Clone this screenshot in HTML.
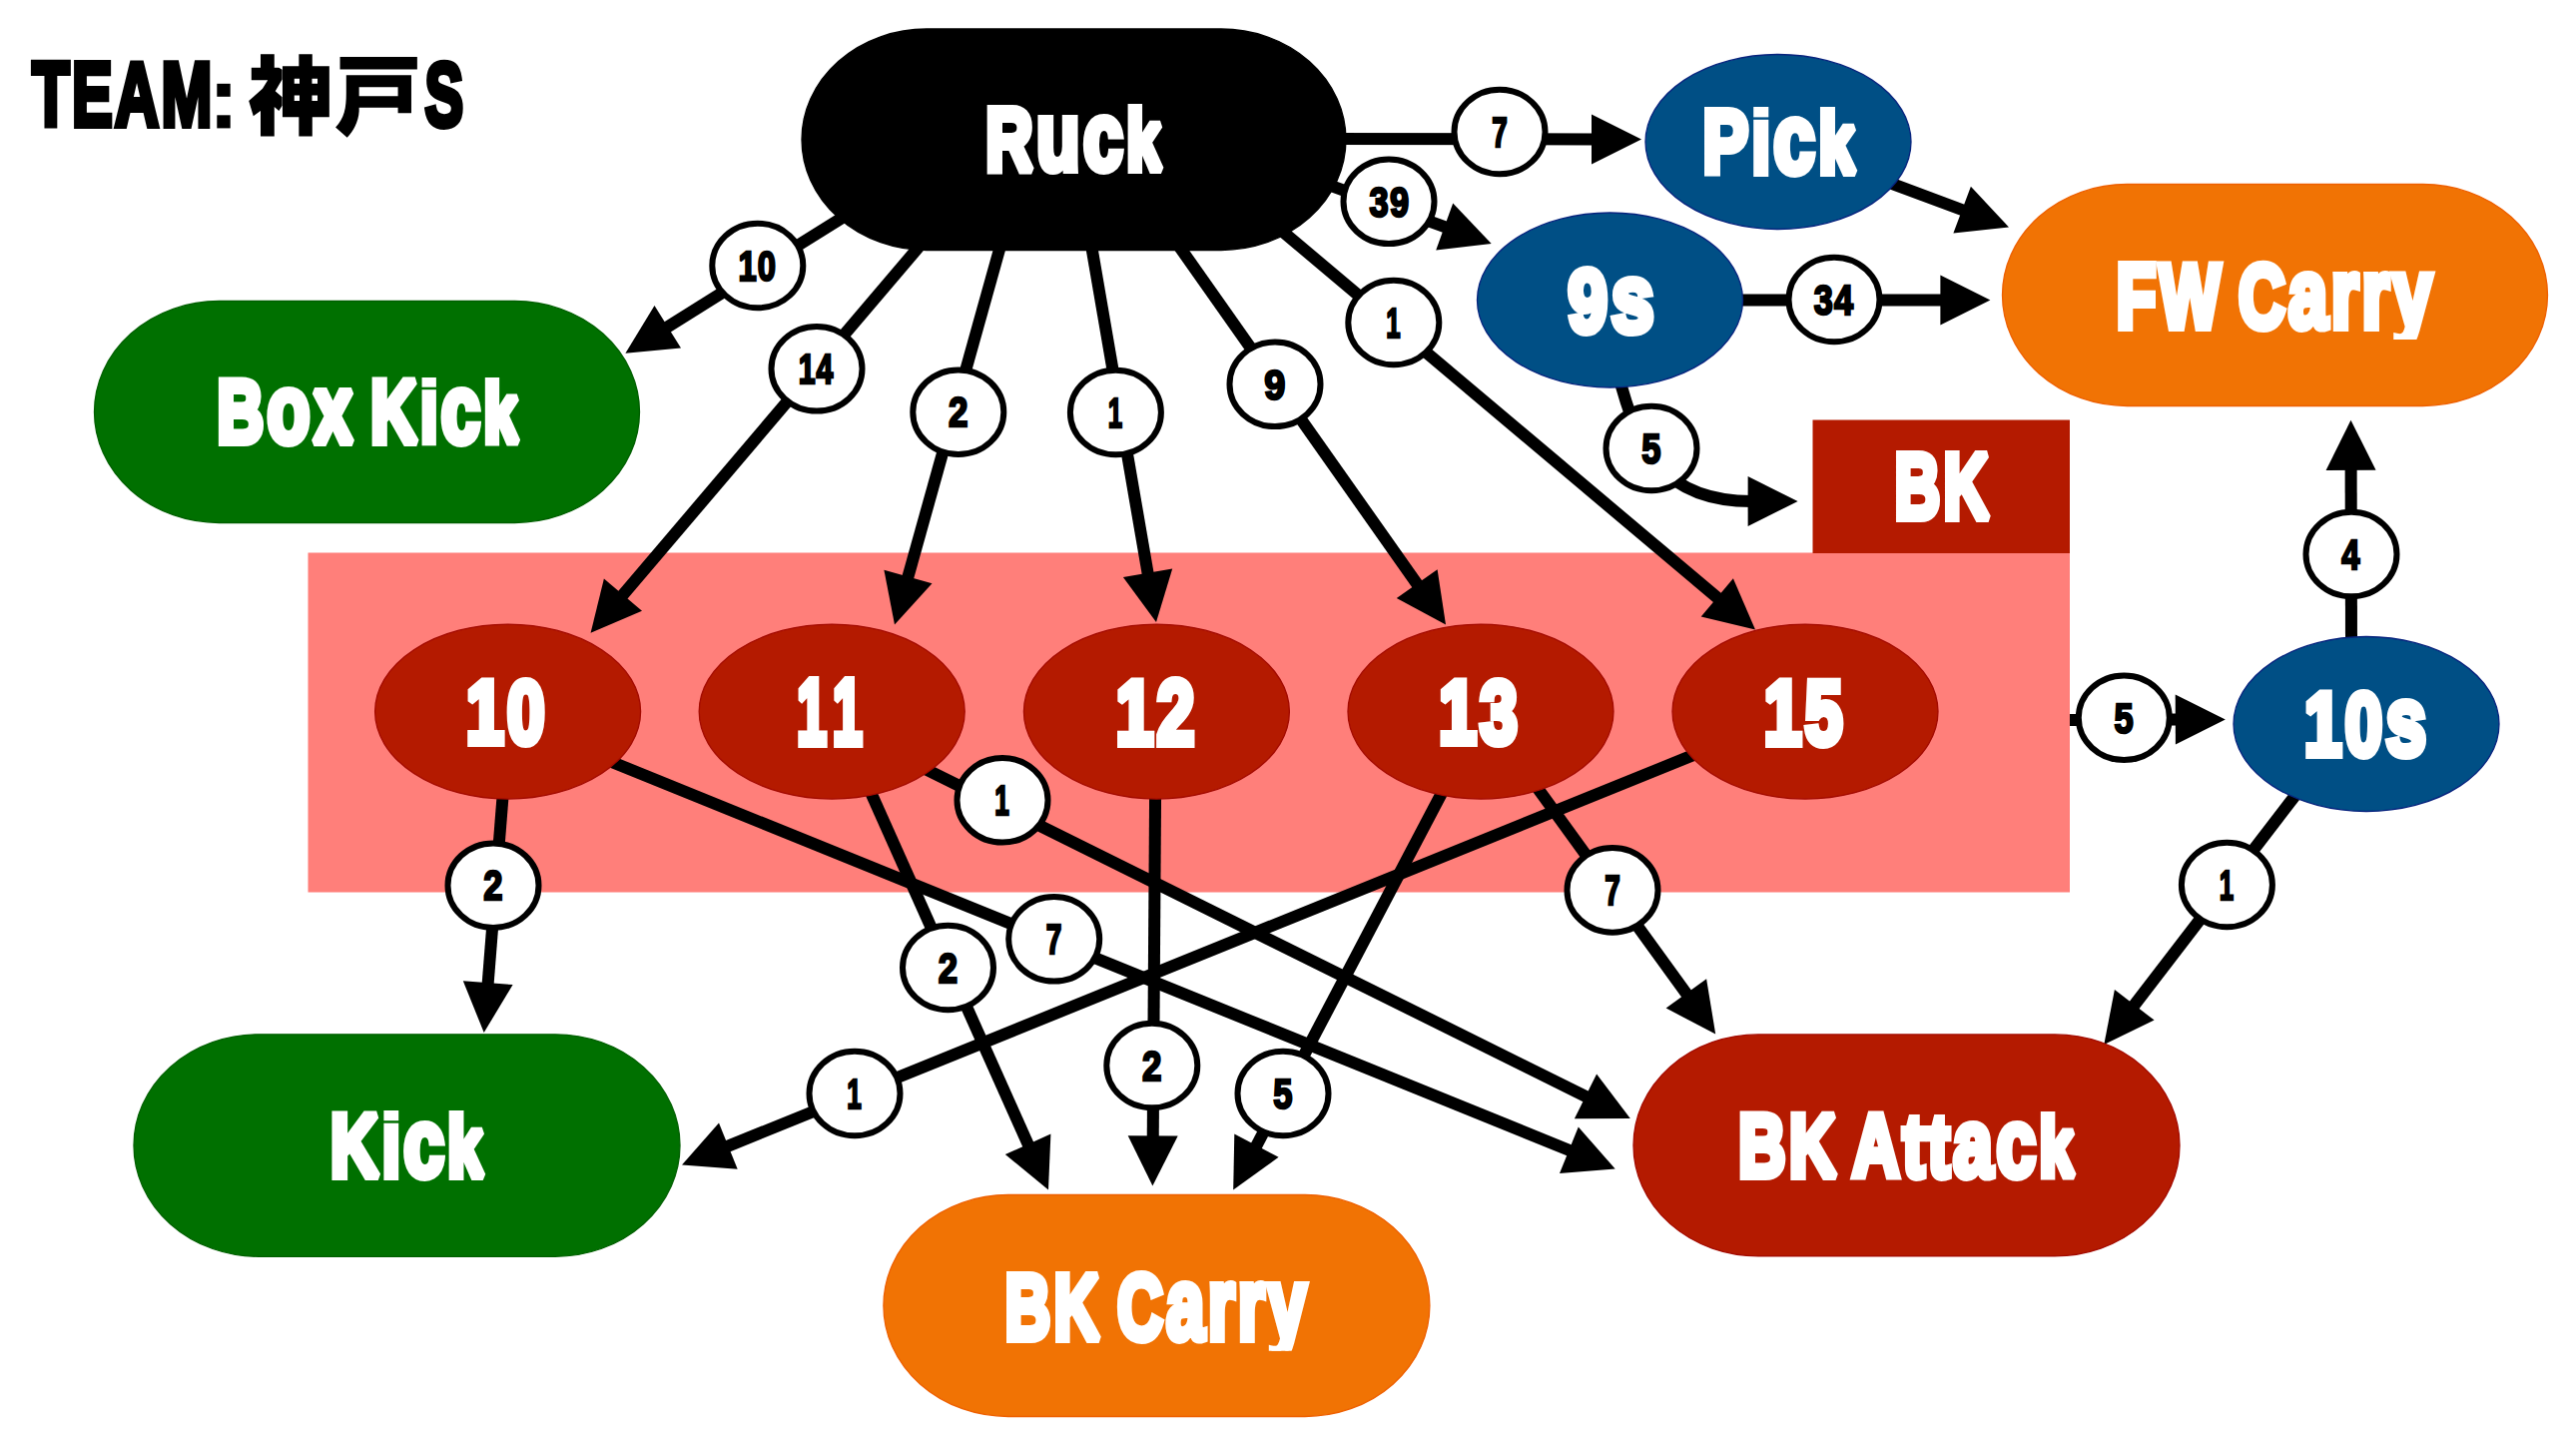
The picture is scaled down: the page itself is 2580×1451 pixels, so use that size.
<!DOCTYPE html>
<html><head><meta charset="utf-8"><style>
html,body{margin:0;padding:0;background:#fff;}
svg{display:block;}
</style></head><body>
<svg width="2580" height="1451" viewBox="0 0 2580 1451">
<defs><clipPath id="cBFWCarry21216"><rect x="2081.6" y="221.5" width="397.4000000000001" height="118.5"/></clipPath><clipPath id="cBBKCarry10078"><rect x="967.8" y="1232.2" width="384.20000000000005" height="120.59999999999991"/></clipPath></defs><rect x="0" y="0" width="2580" height="1451" fill="#fff"/><rect x="308.5" y="553.5" width="1764.5" height="340" fill="#FF7F7A"/><rect x="1815.5" y="420.5" width="257.5" height="133.5" fill="#B41A00"/><g stroke="#000" stroke-width="12" fill="none"><line x1="851.8" y1="212.8" x2="665.4" y2="329.3"/><line x1="922.2" y1="244.9" x2="621.4" y2="598.7"/><line x1="1002.8" y1="243.3" x2="908.4" y2="581.3"/><line x1="1092.6" y1="243.1" x2="1150.2" y2="577.6"/><line x1="1179.4" y1="244.5" x2="1421.5" y2="588.0"/><line x1="1279.9" y1="227.8" x2="1722.8" y2="600.9"/><line x1="1332.0" y1="139.0" x2="1598.0" y2="139.4"/><line x1="1328.5" y1="184.3" x2="1450.4" y2="228.4"/><line x1="1888.0" y1="181.4" x2="1968.9" y2="211.5"/><line x1="1732.0" y1="300.6" x2="1947.4" y2="300.6"/><line x1="2355.0" y1="648.0" x2="2354.6" y2="466.8"/><line x1="2073.0" y1="721.0" x2="2182.8" y2="720.6"/><line x1="2301.3" y1="793.3" x2="2135.3" y2="1009.5"/><line x1="503.9" y1="792.9" x2="488.4" y2="988.1"/><line x1="611.4" y1="762.5" x2="1575.1" y2="1153.2"/><line x1="870.9" y1="790.7" x2="1031.2" y2="1149.4"/><line x1="926.8" y1="770.1" x2="1591.6" y2="1099.6"/><line x1="1157.1" y1="792.0" x2="1154.7" y2="1141.4"/><line x1="1445.7" y1="790.9" x2="1256.6" y2="1150.7"/><line x1="1537.8" y1="786.2" x2="1691.2" y2="998.1"/><line x1="1699.0" y1="754.9" x2="725.6" y2="1149.1"/><path d="M1620,372 C1640,450 1665,502 1754.6,502.0" fill="none"/></g><g fill="#000"><polygon points="626.4,353.7 655.5,306.0 682.0,348.4"/><polygon points="591.6,633.7 604.9,579.4 643.0,611.8"/><polygon points="896.0,625.6 885.4,570.7 933.5,584.2"/><polygon points="1158.0,622.9 1124.9,577.9 1174.2,569.4"/><polygon points="1448.0,625.6 1398.8,599.1 1439.6,570.3"/><polygon points="1758.0,630.5 1703.7,617.4 1735.9,579.2"/><polygon points="1644.0,139.5 1594.0,164.4 1594.0,114.4"/><polygon points="1493.7,244.0 1438.2,250.5 1455.2,203.5"/><polygon points="2012.0,227.6 1956.4,233.6 1973.9,186.7"/><polygon points="1993.4,300.6 1943.4,325.6 1943.4,275.6"/><polygon points="2354.5,420.8 2379.6,470.7 2329.6,470.9"/><polygon points="2228.8,720.4 2178.9,745.6 2178.7,695.6"/><polygon points="2107.3,1046.0 2117.9,991.1 2157.6,1021.6"/><polygon points="484.7,1034.0 463.8,982.2 513.6,986.1"/><polygon points="1617.7,1170.5 1562.0,1174.9 1580.8,1128.5"/><polygon points="1050.0,1191.4 1006.8,1156.0 1052.4,1135.6"/><polygon points="1632.8,1120.0 1576.9,1120.2 1599.1,1075.4"/><polygon points="1154.4,1187.4 1129.7,1137.2 1179.7,1137.6"/><polygon points="1235.2,1191.4 1236.3,1135.5 1280.6,1158.8"/><polygon points="1718.2,1035.4 1668.6,1009.6 1709.1,980.2"/><polygon points="683.0,1166.4 720.0,1124.5 738.7,1170.8"/><polygon points="1800.6,502.0 1750.6,527.0 1750.6,477.0"/></g><rect x="803.0" y="29.0" width="545" height="221.5" rx="125" ry="110.75" fill="#000" stroke="#000" stroke-width="1.3"/><ellipse cx="1781" cy="142" rx="133.0" ry="87.5" fill="#004F85" stroke="#07237E" stroke-width="1.3"/><ellipse cx="1612.5" cy="300.5" rx="133.0" ry="87.5" fill="#004F85" stroke="#07237E" stroke-width="1.3"/><rect x="2005.5" y="184.5" width="546" height="222" rx="125" ry="111.0" fill="#F17304" stroke="#EE5F00" stroke-width="1.3"/><rect x="94.5" y="301.5" width="546" height="222" rx="125" ry="111.0" fill="#007000" stroke="#005F00" stroke-width="1.3"/><ellipse cx="508.6" cy="712.6" rx="133.0" ry="87.5" fill="#B41A00" stroke="#A30A00" stroke-width="1.3"/><ellipse cx="833.2" cy="712.6" rx="133.0" ry="87.5" fill="#B41A00" stroke="#A30A00" stroke-width="1.3"/><ellipse cx="1158.4" cy="712.6" rx="133.0" ry="87.5" fill="#B41A00" stroke="#A30A00" stroke-width="1.3"/><ellipse cx="1483" cy="712.6" rx="133.0" ry="87.5" fill="#B41A00" stroke="#A30A00" stroke-width="1.3"/><ellipse cx="1808" cy="712.6" rx="133.0" ry="87.5" fill="#B41A00" stroke="#A30A00" stroke-width="1.3"/><ellipse cx="2370" cy="725" rx="133.0" ry="87.5" fill="#004F85" stroke="#07237E" stroke-width="1.3"/><rect x="134.0" y="1035.8" width="547" height="222.5" rx="125" ry="111.25" fill="#007000" stroke="#005F00" stroke-width="1.3"/><rect x="884.9" y="1196.5" width="547" height="222" rx="125" ry="111.0" fill="#F17304" stroke="#EE5F00" stroke-width="1.3"/><rect x="1636.0" y="1035.9" width="547" height="222" rx="125" ry="111.0" fill="#B41A00" stroke="#A30A00" stroke-width="1.3"/><g font-family="Liberation Sans" font-weight="700" text-anchor="middle" stroke-linejoin="miter" stroke-miterlimit="2"><text transform="translate(1076.75,170.30) scale(0.7356,1)" font-size="88.89" letter-spacing="4.80" word-spacing="-9" fill="#fff" stroke="#fff" stroke-width="8">R<tspan font-size="96.89">u</tspan><tspan font-size="96.89">c</tspan><tspan font-size="84.45">k</tspan></text><text transform="translate(1783.30,173.30) scale(0.7609,1)" font-size="89.81" letter-spacing="4.80" word-spacing="-9" fill="#fff" stroke="#fff" stroke-width="8">P<tspan font-size="85.32">i</tspan><tspan font-size="97.89">c</tspan><tspan font-size="85.32">k</tspan></text><text transform="translate(1615.45,331.60) scale(0.7939,1)" font-size="89.06" letter-spacing="4.80" word-spacing="-9" fill="#fff" stroke="#fff" stroke-width="8">9<tspan font-size="97.07">s</tspan></text><g clip-path="url(#cBFWCarry21216)"><text transform="translate(2279.40,328.40) scale(0.7168,1)" font-size="90.12" letter-spacing="4.80" word-spacing="-9" fill="#fff" stroke="#fff" stroke-width="8">FW C<tspan font-size="98.23">a</tspan><tspan font-size="98.23">r</tspan><tspan font-size="98.23">r</tspan><tspan font-size="98.23">y</tspan></text></g><text transform="translate(369.70,443.10) scale(0.7298,1)" font-size="88.33" letter-spacing="4.80" word-spacing="-9" fill="#fff" stroke="#fff" stroke-width="8">B<tspan font-size="96.28">o</tspan><tspan font-size="96.28">x</tspan> K<tspan font-size="83.91">i</tspan><tspan font-size="96.28">c</tspan><tspan font-size="83.91">k</tspan></text><text transform="translate(1946.55,519.00) scale(0.6849,1)" font-size="92.34" letter-spacing="4.80" word-spacing="-9" fill="#fff" stroke="#fff" stroke-width="8">BK</text><text transform="translate(508.05,744.30) scale(0.7507,1)" font-size="89.80" letter-spacing="4.80" word-spacing="-9" fill="#fff" stroke="#fff" stroke-width="8">10</text><text transform="translate(835.45,745.20) scale(0.5719,1)" font-size="93.02" letter-spacing="16.00" word-spacing="-9" fill="#fff" stroke="#fff" stroke-width="8">11</text><text transform="translate(1158.65,745.20) scale(0.7421,1)" font-size="90.75" letter-spacing="4.80" word-spacing="-9" fill="#fff" stroke="#fff" stroke-width="8">12</text><text transform="translate(1482.30,744.30) scale(0.7508,1)" font-size="89.80" letter-spacing="4.80" word-spacing="-9" fill="#fff" stroke="#fff" stroke-width="8">13</text><text transform="translate(1807.80,744.70) scale(0.7419,1)" font-size="91.06" letter-spacing="4.80" word-spacing="-9" fill="#fff" stroke="#fff" stroke-width="8">15</text><text transform="translate(2370.80,756.40) scale(0.7455,1)" font-size="89.80" letter-spacing="4.80" word-spacing="-9" fill="#fff" stroke="#fff" stroke-width="8">10<tspan font-size="97.88">s</tspan></text><text transform="translate(409.10,1178.10) scale(0.7510,1)" font-size="89.04" letter-spacing="4.80" word-spacing="-9" fill="#fff" stroke="#fff" stroke-width="8">K<tspan font-size="84.59">i</tspan><tspan font-size="97.06">c</tspan><tspan font-size="84.59">k</tspan></text><g clip-path="url(#cBBKCarry10078)"><text transform="translate(1159.00,1341.20) scale(0.6794,1)" font-size="93.17" letter-spacing="4.80" word-spacing="-9" fill="#fff" stroke="#fff" stroke-width="8">BK C<tspan font-size="101.56">a</tspan><tspan font-size="101.56">r</tspan><tspan font-size="101.56">r</tspan><tspan font-size="101.56">y</tspan></text></g><text transform="translate(1910.90,1177.80) scale(0.7394,1)" font-size="88.18" letter-spacing="4.80" word-spacing="-9" fill="#fff" stroke="#fff" stroke-width="8">BK Att<tspan font-size="96.11">a</tspan><tspan font-size="96.11">c</tspan><tspan font-size="83.77">k</tspan></text></g><g fill="#fff" stroke="#000" stroke-width="6"><ellipse cx="758.8" cy="266" rx="45.5" ry="42.3"/><ellipse cx="818" cy="369.3" rx="45.5" ry="42.3"/><ellipse cx="959.8" cy="412.7" rx="45.5" ry="42.3"/><ellipse cx="1117.4" cy="413" rx="45.5" ry="42.3"/><ellipse cx="1277" cy="384.8" rx="45.5" ry="42.3"/><ellipse cx="1395.8" cy="323" rx="45.5" ry="42.3"/><ellipse cx="1502" cy="132" rx="45.5" ry="42.3"/><ellipse cx="1391" cy="201.8" rx="45.5" ry="42.3"/><ellipse cx="1837" cy="300" rx="45.5" ry="42.3"/><ellipse cx="2355" cy="555" rx="45.5" ry="42.3"/><ellipse cx="2127.3" cy="718.8" rx="45.5" ry="42.3"/><ellipse cx="2230.4" cy="886" rx="45.5" ry="42.3"/><ellipse cx="494" cy="886.7" rx="45.5" ry="42.3"/><ellipse cx="1055.7" cy="940.3" rx="45.5" ry="42.3"/><ellipse cx="949.5" cy="969" rx="45.5" ry="42.3"/><ellipse cx="1004" cy="801.3" rx="45.5" ry="42.3"/><ellipse cx="1153.8" cy="1067" rx="45.5" ry="42.3"/><ellipse cx="1285" cy="1095" rx="45.5" ry="42.3"/><ellipse cx="1615" cy="891.4" rx="45.5" ry="42.3"/><ellipse cx="856" cy="1095" rx="45.5" ry="42.3"/><ellipse cx="1654" cy="449" rx="45.5" ry="42.3"/></g><g font-family="Liberation Sans" font-weight="700" text-anchor="middle" stroke-linejoin="miter" stroke-miterlimit="2"><text transform="translate(758.80,280.75) scale(0.7564,1)" font-size="43.21" letter-spacing="1.50" word-spacing="-9" fill="#000" stroke="#000" stroke-width="2.5">10</text><text transform="translate(817.55,384.05) scale(0.6997,1)" font-size="43.21" letter-spacing="1.50" word-spacing="-9" fill="#000" stroke="#000" stroke-width="2.5">14</text><text transform="translate(960.25,427.45) scale(0.8075,1)" font-size="43.21" letter-spacing="1.50" word-spacing="-9" fill="#000" stroke="#000" stroke-width="2.5">2</text><text transform="translate(1117.40,427.75) scale(0.5965,1)" font-size="43.21" letter-spacing="1.50" word-spacing="-9" fill="#000" stroke="#000" stroke-width="2.5">1</text><text transform="translate(1277.45,399.55) scale(0.8779,1)" font-size="43.21" letter-spacing="1.50" word-spacing="-9" fill="#000" stroke="#000" stroke-width="2.5">9</text><text transform="translate(1395.80,337.75) scale(0.5961,1)" font-size="43.21" letter-spacing="1.50" word-spacing="-9" fill="#000" stroke="#000" stroke-width="2.5">1</text><text transform="translate(1502.45,146.75) scale(0.6453,1)" font-size="43.21" letter-spacing="1.50" word-spacing="-9" fill="#000" stroke="#000" stroke-width="2.5">7</text><text transform="translate(1391.90,216.55) scale(0.7966,1)" font-size="43.21" letter-spacing="1.50" word-spacing="-9" fill="#000" stroke="#000" stroke-width="2.5">39</text><text transform="translate(1837.00,314.75) scale(0.7923,1)" font-size="43.21" letter-spacing="1.50" word-spacing="-9" fill="#000" stroke="#000" stroke-width="2.5">34</text><text transform="translate(2355.00,569.75) scale(0.7548,1)" font-size="43.21" letter-spacing="1.50" word-spacing="-9" fill="#000" stroke="#000" stroke-width="2.5">4</text><text transform="translate(2127.75,733.55) scale(0.7958,1)" font-size="43.21" letter-spacing="1.50" word-spacing="-9" fill="#000" stroke="#000" stroke-width="2.5">5</text><text transform="translate(2230.40,900.75) scale(0.5965,1)" font-size="43.21" letter-spacing="1.50" word-spacing="-9" fill="#000" stroke="#000" stroke-width="2.5">1</text><text transform="translate(494.45,901.45) scale(0.7992,1)" font-size="43.21" letter-spacing="1.50" word-spacing="-9" fill="#000" stroke="#000" stroke-width="2.5">2</text><text transform="translate(1056.15,955.05) scale(0.6503,1)" font-size="43.21" letter-spacing="1.50" word-spacing="-9" fill="#000" stroke="#000" stroke-width="2.5">7</text><text transform="translate(949.95,983.75) scale(0.8035,1)" font-size="43.21" letter-spacing="1.50" word-spacing="-9" fill="#000" stroke="#000" stroke-width="2.5">2</text><text transform="translate(1004.00,816.05) scale(0.6045,1)" font-size="43.21" letter-spacing="1.50" word-spacing="-9" fill="#000" stroke="#000" stroke-width="2.5">1</text><text transform="translate(1154.25,1081.75) scale(0.8075,1)" font-size="43.21" letter-spacing="1.50" word-spacing="-9" fill="#000" stroke="#000" stroke-width="2.5">2</text><text transform="translate(1285.45,1109.75) scale(0.7982,1)" font-size="43.21" letter-spacing="1.50" word-spacing="-9" fill="#000" stroke="#000" stroke-width="2.5">5</text><text transform="translate(1615.45,906.15) scale(0.6453,1)" font-size="43.21" letter-spacing="1.50" word-spacing="-9" fill="#000" stroke="#000" stroke-width="2.5">7</text><text transform="translate(856.00,1109.75) scale(0.6045,1)" font-size="43.21" letter-spacing="1.50" word-spacing="-9" fill="#000" stroke="#000" stroke-width="2.5">1</text><text transform="translate(1654.45,463.75) scale(0.7982,1)" font-size="43.21" letter-spacing="1.50" word-spacing="-9" fill="#000" stroke="#000" stroke-width="2.5">5</text></g><g font-family="Liberation Sans" font-weight="700" text-anchor="middle" stroke-linejoin="miter" stroke-miterlimit="2"><text transform="translate(123.53,125.58) scale(0.6758,1)" font-size="90.33" letter-spacing="3.60" word-spacing="-9" fill="#000" stroke="#000" stroke-width="6">TEAM</text><text transform="translate(445.90,125.60) scale(0.6345,1)" font-size="91.16" letter-spacing="3.60" word-spacing="-9" fill="#000" stroke="#000" stroke-width="6">S</text></g><rect x="217.3" y="83.8" width="13.4" height="13" fill="#000"/><rect x="217.3" y="115.3" width="13.4" height="13.1" fill="#000"/><rect x="1754" y="117.4" width="19" height="2.4" fill="#004F85"/><rect x="420" y="387.7" width="18" height="2.5" fill="#007000"/><rect x="382" y="1122.2" width="19" height="2.5" fill="#007000"/><g transform="translate(240,48) scale(0.06557)" fill="#000">
<rect x="320" y="95" width="210" height="215"/>
<polygon points="180,300 600,300 650,330 650,480 545,660 650,750 650,880 600,960 530,900 530,1350 320,1350 320,960 210,1040 140,810 350,620 430,490 180,490"/>
<path fill-rule="evenodd" d="M655,280 H905 V95 H1110 V280 H1370 V1055 H1110 V1350 H905 V1055 H655 Z M835,470 V545 H915 V470 Z M1105,470 V545 H1190 V470 Z M835,725 V810 H915 V725 Z M1105,725 V810 H1190 V725 Z"/>
</g>
<g transform="translate(20,40) scale(0.17857)" fill="#000">
<rect x="1795" y="95" width="433" height="70"/>
<path fill-rule="evenodd" d="M1830,198 H2195 V410 H2120 V380 H1902 V400 C1898,460 1870,510 1835,548 L1770,490 C1820,440 1830,380 1830,300 Z M1902,265 V315 H2120 V265 Z"/>
</g>
</svg>
</body></html>
